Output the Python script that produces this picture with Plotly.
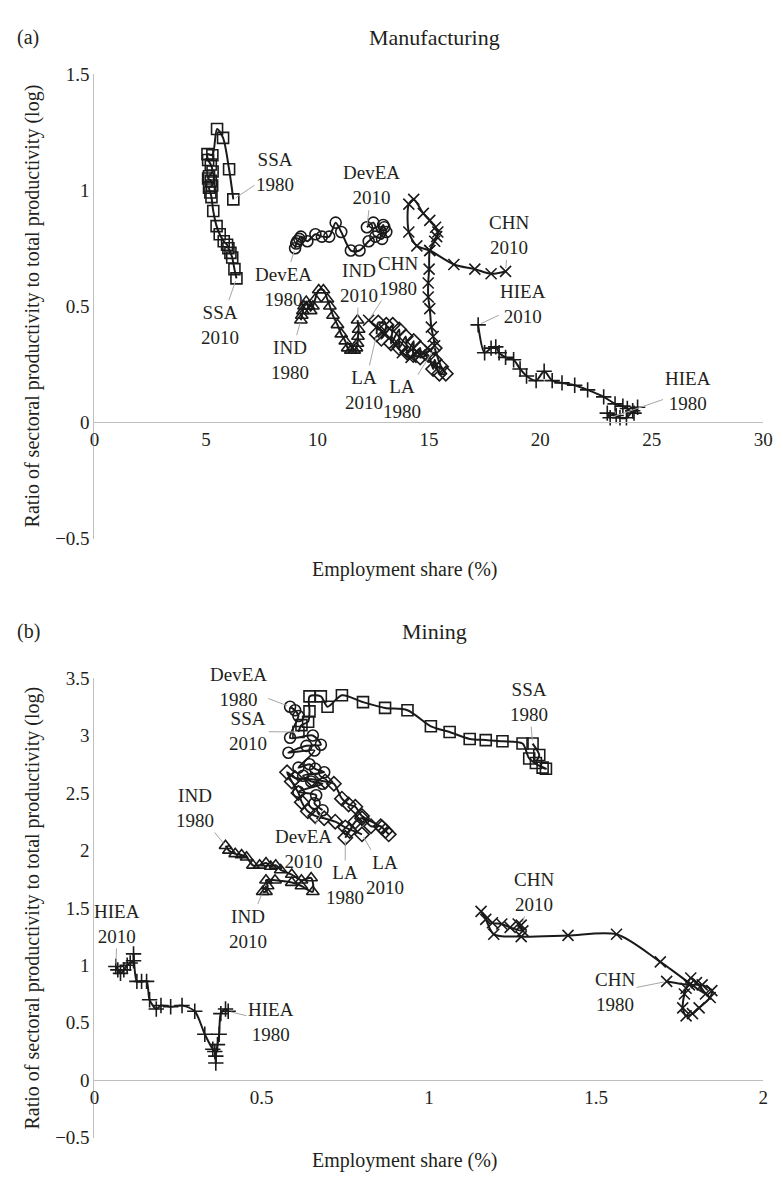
import plotly.graph_objects as go

# ---------------- Panel (a) Manufacturing ----------------
a_ssa_x = [6.23, 6.04, 5.77, 5.50, 5.29, 5.07, 5.10, 5.22, 5.30, 5.14, 5.10, 5.22, 5.28, 5.14, 5.20, 5.25, 5.33, 5.48, 5.62, 5.80, 5.95, 6.01, 6.10, 6.18, 6.28, 6.37]
a_ssa_y = [0.96, 1.09, 1.225, 1.263, 1.15, 1.155, 1.13, 1.11, 1.08, 1.06, 1.05, 1.04, 1.02, 1.01, 0.99, 0.97, 0.91, 0.845, 0.81, 0.78, 0.765, 0.75, 0.73, 0.71, 0.66, 0.62]

a_devea_x = [9.00, 9.05, 9.10, 9.19, 9.26, 9.55, 9.91, 10.20, 10.53, 10.82, 11.07, 11.50, 11.89, 12.30, 12.60, 12.90, 13.09, 13.00, 12.95, 12.73, 12.51, 12.22]
a_devea_y = [0.75, 0.77, 0.78, 0.79, 0.80, 0.78, 0.81, 0.80, 0.80, 0.86, 0.82, 0.74, 0.74, 0.78, 0.80, 0.79, 0.82, 0.84, 0.85, 0.82, 0.86, 0.84]

a_ind_x = [9.26, 9.30, 9.35, 9.40, 9.50, 9.60, 9.70, 9.80, 9.90, 10.06, 10.27, 10.45, 10.56, 10.70, 10.90, 11.07, 11.25, 11.36, 11.50, 11.65, 11.75, 11.80, 11.82, 11.85, 11.80]
a_ind_y = [0.44, 0.46, 0.48, 0.50, 0.52, 0.50, 0.48, 0.50, 0.53, 0.57, 0.57, 0.53, 0.50, 0.46, 0.42, 0.38, 0.35, 0.32, 0.31, 0.31, 0.32, 0.34, 0.37, 0.40, 0.44]

a_chn_x = [12.30, 12.95, 13.45, 13.81, 14.20, 14.60, 15.04, 15.26, 15.19, 15.11, 15.04, 14.97, 14.97, 15.01, 15.04, 15.26, 15.35, 15.40, 15.30, 15.04, 14.75, 14.32, 14.10, 14.10, 14.46, 15.04, 16.12, 17.06, 17.79, 18.44]
a_chn_y = [0.44, 0.39, 0.34, 0.30, 0.28, 0.29, 0.31, 0.33, 0.37, 0.41, 0.49, 0.54, 0.60, 0.66, 0.74, 0.78, 0.80, 0.82, 0.84, 0.87, 0.90, 0.96, 0.94, 0.82, 0.76, 0.74, 0.68, 0.66, 0.64, 0.65]

a_la_x = [15.26, 15.55, 15.76, 15.47, 15.26, 15.19, 14.97, 14.61, 14.61, 14.30, 14.32, 14.03, 13.96, 13.67, 13.67, 13.30, 13.38, 12.87, 13.09, 12.73, 12.66]
a_la_y = [0.32, 0.24, 0.21, 0.21, 0.27, 0.23, 0.29, 0.28, 0.32, 0.29, 0.35, 0.30, 0.37, 0.32, 0.40, 0.34, 0.42, 0.36, 0.42, 0.43, 0.38]

a_hiea_x = [23.13, 23.00, 23.40, 23.57, 23.86, 24.14, 24.36, 24.20, 23.90, 23.70, 23.35, 22.84, 22.12, 21.54, 20.97, 20.53, 20.17, 19.81, 19.38, 19.09, 18.80, 18.44, 18.15, 18.00, 17.79, 17.50, 17.21]
a_hiea_y = [0.02, 0.04, 0.03, 0.02, 0.02, 0.05, 0.065, 0.04, 0.06, 0.07, 0.08, 0.11, 0.14, 0.16, 0.17, 0.18, 0.22, 0.18, 0.20, 0.23, 0.27, 0.28, 0.30, 0.325, 0.32, 0.30, 0.42]

# ---------------- Panel (b) Mining ----------------
b_ssa_x = [1.31, 1.33, 1.32, 1.35, 1.34, 1.30, 1.28, 1.22, 1.17, 1.122, 1.062, 1.006, 0.936, 0.869, 0.803, 0.74, 0.697, 0.677, 0.643, 0.643, 0.639, 0.619, 0.61]
b_ssa_y = [2.93, 2.83, 2.76, 2.71, 2.72, 2.80, 2.93, 2.95, 2.96, 2.97, 3.03, 3.08, 3.22, 3.24, 3.29, 3.35, 3.25, 3.34, 3.34, 3.21, 3.12, 3.09, 3.03]

b_devea_x = [0.585, 0.60, 0.61, 0.585, 0.653, 0.677, 0.634, 0.58, 0.658, 0.61, 0.643, 0.66, 0.687, 0.624, 0.648, 0.682, 0.61, 0.663, 0.658, 0.682]
b_devea_y = [3.25, 3.22, 3.17, 2.98, 3.00, 2.92, 2.91, 2.85, 2.87, 2.72, 2.75, 2.71, 2.68, 2.65, 2.60, 2.58, 2.51, 2.48, 2.41, 2.35]

b_la_x = [0.75, 0.763, 0.78, 0.80, 0.827, 0.856, 0.87, 0.88, 0.86, 0.80, 0.78, 0.76, 0.74, 0.716, 0.69, 0.65, 0.60, 0.576, 0.59, 0.61, 0.62, 0.638, 0.66, 0.687, 0.72, 0.75, 0.80]
b_la_y = [2.11, 2.17, 2.25, 2.28, 2.21, 2.21, 2.17, 2.14, 2.20, 2.30, 2.38, 2.40, 2.45, 2.58, 2.60, 2.62, 2.63, 2.68, 2.60, 2.50, 2.42, 2.34, 2.30, 2.28, 2.25, 2.20, 2.14]

b_ind_x = [0.392, 0.402, 0.421, 0.44, 0.455, 0.474, 0.494, 0.513, 0.527, 0.542, 0.557, 0.59, 0.619, 0.648, 0.653, 0.619, 0.59, 0.54, 0.513, 0.518, 0.513, 0.503]
b_ind_y = [2.04, 2.00, 1.97, 1.96, 1.94, 1.87, 1.87, 1.89, 1.86, 1.87, 1.83, 1.79, 1.74, 1.76, 1.64, 1.69, 1.72, 1.74, 1.74, 1.69, 1.64, 1.64]

b_hiea_x = [0.40, 0.392, 0.378, 0.373, 0.368, 0.363, 0.363, 0.36, 0.354, 0.33, 0.30, 0.262, 0.228, 0.199, 0.185, 0.165, 0.156, 0.141, 0.127, 0.117, 0.117, 0.107, 0.098, 0.088, 0.078, 0.07, 0.064]
b_hiea_y = [0.60, 0.62, 0.58, 0.40, 0.31, 0.21, 0.15, 0.25, 0.27, 0.40, 0.60, 0.65, 0.64, 0.65, 0.62, 0.70, 0.86, 0.86, 0.86, 1.10, 1.04, 1.02, 1.00, 0.96, 0.93, 0.96, 0.99]

b_chn_x = [1.711, 1.779, 1.817, 1.846, 1.841, 1.808, 1.788, 1.769, 1.759, 1.764, 1.769, 1.783, 1.80, 1.827, 1.692, 1.561, 1.416, 1.276, 1.194, 1.17, 1.156, 1.19, 1.218, 1.243, 1.281, 1.267, 1.276]
b_chn_y = [0.86, 0.83, 0.83, 0.78, 0.72, 0.63, 0.58, 0.56, 0.63, 0.75, 0.80, 0.89, 0.85, 0.75, 1.03, 1.27, 1.26, 1.25, 1.27, 1.40, 1.47, 1.37, 1.36, 1.33, 1.30, 1.36, 1.35]

a_xticks = [0, 5, 10, 15, 20, 25, 30]
a_yticks = [-0.5, 0, 0.5, 1, 1.5]
a_ytext = ["\u22120.5", "0", "0.5", "1", "1.5"]
b_xticks = [0, 0.5, 1, 1.5, 2]
b_xtext = ["0", "0.5", "1", "1.5", "2"]
b_yticks = [-0.5, 0, 0.5, 1, 1.5, 2, 2.5, 3, 3.5]
b_ytext = ["\u22120.5", "0", "0.5", "1", "1.5", "2", "2.5", "3", "3.5"]

FONT = "Liberation Serif, DejaVu Serif, serif"
TXT = "#231f20"
W, H = 783, 1179

fig = go.Figure()

def add_series(x, y, sym, xa, ya, size=11):
    fig.add_trace(go.Scatter(
        x=x, y=y, xaxis=xa, yaxis=ya, mode="lines+markers",
        line=dict(color="#1a1a1a", width=2, shape="spline", smoothing=0.8),
        marker=dict(symbol=sym, size=size, color="#1a1a1a",
                    line=dict(color="#1a1a1a", width=1.6)),
        showlegend=False, hoverinfo="skip"))

series_a = [(a_ssa_x, a_ssa_y, "square-open"), (a_devea_x, a_devea_y, "circle-open"),
            (a_ind_x, a_ind_y, "triangle-up-open"), (a_la_x, a_la_y, "diamond-open"),
            (a_chn_x, a_chn_y, "x-thin"), (a_hiea_x, a_hiea_y, "cross-thin")]
series_b = [(b_ssa_x, b_ssa_y, "square-open"), (b_devea_x, b_devea_y, "circle-open"),
            (b_ind_x, b_ind_y, "triangle-up-open"), (b_la_x, b_la_y, "diamond-open"),
            (b_chn_x, b_chn_y, "x-thin"), (b_hiea_x, b_hiea_y, "cross-thin")]
for x, y, s in series_a:
    add_series(x, y, s, "x", "y")
for x, y, s in series_b:
    add_series(x, y, s, "x2", "y2")

xdom = [83 / W, 765 / W]
ya_dom = [1 - 530 / H, 1 - 57 / H]
yb_dom = [1 - 1140 / H, 1 - 672 / H]
pos_a = ya_dom[0] + (0 - (-0.5)) / 2.0 * (ya_dom[1] - ya_dom[0])
pos_b = yb_dom[0] + (0 - (-0.5)) / 4.0 * (yb_dom[1] - yb_dom[0])

axis_common = dict(showgrid=False, zeroline=False, showline=True, linecolor="#bfbfbf",
                   linewidth=1, ticks="", tickfont=dict(family=FONT, size=19, color=TXT))

fig.update_layout(
    width=W, height=H, margin=dict(l=0, r=0, t=0, b=0),
    paper_bgcolor="white", plot_bgcolor="white",
    font=dict(family=FONT, color=TXT),
    xaxis=dict(domain=xdom, range=[0, 30], anchor="free", position=pos_a,
               tickvals=a_xticks, ticktext=[str(v) for v in a_xticks], **axis_common),
    yaxis=dict(domain=ya_dom, range=[-0.5, 1.5], anchor="x",
               tickvals=a_yticks, ticktext=a_ytext, **axis_common),
    xaxis2=dict(domain=xdom, range=[0, 2], anchor="free", position=pos_b,
                tickvals=b_xticks, ticktext=b_xtext, **axis_common),
    yaxis2=dict(domain=yb_dom, range=[-0.5, 3.5], anchor="x2",
                tickvals=b_yticks, ticktext=b_ytext, **axis_common),
)

labels_a = [
    ("SSA<br>1980", a_ssa_x, a_ssa_y, 0, 8.1, 1.08),
    ("SSA<br>2010", a_ssa_x, a_ssa_y, -1, 5.65, 0.42),
    ("DevEA<br>1980", a_devea_x, a_devea_y, 0, 8.47, 0.585),
    ("DevEA<br>2010", a_devea_x, a_devea_y, -1, 12.44, 1.02),
    ("IND<br>1980", a_ind_x, a_ind_y, 0, 8.76, 0.27),
    ("IND<br>2010", a_ind_x, a_ind_y, -1, 11.86, 0.60),
    ("CHN<br>1980", a_chn_x, a_chn_y, 0, 13.6, 0.63),
    ("CHN<br>2010", a_chn_x, a_chn_y, -1, 18.58, 0.805),
    ("LA<br>1980", a_la_x, a_la_y, 0, 13.81, 0.10),
    ("LA<br>2010", a_la_x, a_la_y, -1, 12.08, 0.14),
    ("HIEA<br>1980", a_hiea_x, a_hiea_y, 0, 26.6, 0.135),
    ("HIEA<br>2010", a_hiea_x, a_hiea_y, -1, 19.23, 0.51),
]
labels_b = [
    ("DevEA<br>1980", b_devea_x, b_devea_y, 0, 0.43, 3.42),
    ("SSA<br>2010", b_ssa_x, b_ssa_y, -1, 0.46, 3.035),
    ("SSA<br>1980", b_ssa_x, b_ssa_y, 0, 1.30, 3.29),
    ("IND<br>1980", b_ind_x, b_ind_y, 0, 0.30, 2.37),
    ("DevEA<br>2010", b_devea_x, b_devea_y, -1, 0.625, 2.01),
    ("LA<br>1980", b_la_x, b_la_y, 0, 0.75, 1.70),
    ("LA<br>2010", b_la_x, b_la_y, -1, 0.87, 1.79),
    ("IND<br>2010", b_ind_x, b_ind_y, -1, 0.46, 1.32),
    ("HIEA<br>2010", b_hiea_x, b_hiea_y, -1, 0.069, 1.36),
    ("HIEA<br>1980", b_hiea_x, b_hiea_y, 0, 0.528, 0.51),
    ("CHN<br>2010", b_chn_x, b_chn_y, -1, 1.315, 1.64),
    ("CHN<br>1980", b_chn_x, b_chn_y, 0, 1.557, 0.77),
]

anns = []
for labels, xr, yr in ((labels_a, "x", "y"), (labels_b, "x2", "y2")):
    for text, sx, sy, i, tx, ty in labels:
        anns.append(dict(text=text, x=sx[i], y=sy[i], xref=xr, yref=yr,
                         ax=tx, ay=ty, axref=xr, ayref=yr, showarrow=True,
                         arrowhead=0, arrowwidth=1, arrowcolor="#a6a6a6", standoff=3,
                         font=dict(family=FONT, size=19, color=TXT), align="center"))

def txt(text, x, y, size=20, angle=0, xanchor="center"):
    anns.append(dict(text=text, x=x / W, y=1 - y / H, xref="paper", yref="paper",
                     showarrow=False, textangle=angle, xanchor=xanchor, yanchor="middle",
                     font=dict(family=FONT, size=size, color=TXT)))

txt("(a)", 2, 20, 20, xanchor="left")
txt("Manufacturing", 430, 20, 22)
txt("Employment share (%)", 400, 562, 20)
txt("Ratio of sectoral productivity to total productivity (log)", 20, 293, 20, angle=-90)
txt("(b)", 2, 625, 20, xanchor="left")
txt("Mining", 430, 625, 22)
txt("Employment share (%)", 400, 1163, 20)
txt("Ratio of sectoral productivity to total productivity (log)", 20, 906, 20, angle=-90)

fig.update_layout(annotations=anns)
fig.write_html("out.html")
